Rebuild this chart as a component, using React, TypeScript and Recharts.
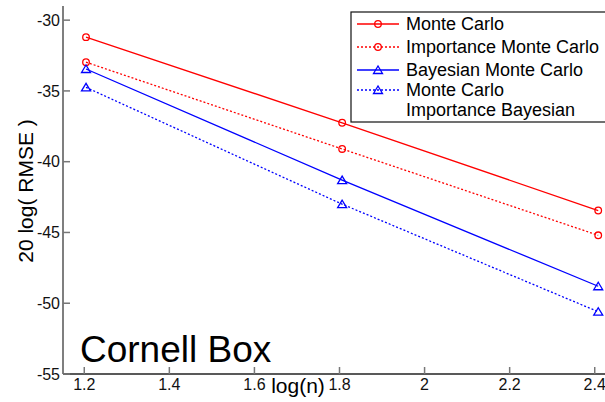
import React from 'react'
import { LineChart, Line, XAxis, YAxis } from 'recharts'

// log10 of sample counts (16, 64, 256)
const logN = [1.2041, 1.8062, 2.4082]

const monteCarlo = [-31.2, -37.25, -43.45]
const importanceMonteCarlo = [-32.97, -39.1, -45.2]
const bayesianMonteCarlo = [-33.45, -41.3, -48.8]
const bayesianImportance = [-34.75, -43.0, -50.6]

const xTicks = [1.2, 1.4, 1.6, 1.8, 2, 2.2, 2.4]
const yTicks = [-55, -50, -45, -40, -35, -30]

const series = [
  { key: 'mc', label: ['Monte Carlo'], color: '#ff0000', dashed: false, marker: 'circle', values: monteCarlo },
  { key: 'imc', label: ['Importance Monte Carlo'], color: '#ff0000', dashed: true, marker: 'circle', values: importanceMonteCarlo },
  { key: 'bmc', label: ['Bayesian Monte Carlo'], color: '#0000ff', dashed: false, marker: 'triangle', values: bayesianMonteCarlo },
  { key: 'bimc', label: ['Monte Carlo', 'Importance Bayesian'], color: '#0000ff', dashed: true, marker: 'triangle', values: bayesianImportance },
]

const data = logN.map((x, i) => {
  const row: { [k: string]: number } = { x }
  series.forEach((s) => {
    row[s.key] = s.values[i]
  })
  return row
})

const FONT = '"Liberation Sans", Arial, sans-serif'
const TICK_COLOR = '#777'
const AXIS_COLOR = '#222'

function Marker({ cx, cy, color, type }: { cx: number; cy: number; color: string; type: string }) {
  if (cx == null || cy == null) return null
  if (type === 'triangle') {
    return (
      <polygon
        points={`${cx},${cy - 4} ${cx - 4.5},${cy + 3.5} ${cx + 4.5},${cy + 3.5}`}
        fill="none"
        stroke={color}
        strokeWidth={1.3}
      />
    )
  }
  return <circle cx={cx} cy={cy} r={3.3} fill="none" stroke={color} strokeWidth={1.3} />
}

function BottomTick(props: any) {
  const { x, y, payload } = props
  return (
    <g>
      <line x1={x} y1={y} x2={x} y2={y - 7} stroke={TICK_COLOR} strokeWidth={1.5} />
      <text x={x} y={y + 16} textAnchor="middle" fontSize={16} fontFamily={FONT} fill="#111">
        {payload.value}
      </text>
    </g>
  )
}

function TopTick(props: any) {
  const { x, y } = props
  return <line x1={x} y1={y} x2={x} y2={y + 7} stroke={TICK_COLOR} strokeWidth={1.5} />
}

function LeftTick(props: any) {
  const { x, y, payload } = props
  return (
    <g>
      <line x1={x} y1={y} x2={x + 7} y2={y} stroke={TICK_COLOR} strokeWidth={1.5} />
      <text x={x - 3} y={y} dy="0.36em" textAnchor="end" fontSize={16} fontFamily={FONT} fill="#111">
        {payload.value}
      </text>
    </g>
  )
}

function LegendBox() {
  const left = 351
  const top = 12
  const rows = [24, 47, 70, 90]
  return (
    <g>
      <rect x={left} y={top} width={270} height={110} fill="#fff" stroke="#111" strokeWidth={1.2} />
      {series.map((s, i) => {
        const y = rows[i]
        return (
          <g key={s.key}>
            <line
              x1={357}
              y1={y}
              x2={399}
              y2={y}
              stroke={s.color}
              strokeWidth={1.3}
              strokeDasharray={s.dashed ? '2 2' : undefined}
            />
            <Marker cx={378} cy={y} color={s.color} type={s.marker} />
            {s.label.map((t, j) => (
              <text key={j} x={406} y={y + j * 20} dy="0.36em" fontSize={18} fontFamily={FONT} fill="#000">
                {t}
              </text>
            ))}
          </g>
        )
      })}
    </g>
  )
}

export default function App() {
  return (
    <div style={{ position: 'absolute', left: 0, top: 0, width: 605, height: 402, overflow: 'hidden', background: '#fff' }}>
      <LineChart width={620} height={402} data={data} margin={{ top: 6, right: 4, left: 0, bottom: 0 }}>
        <XAxis
          dataKey="x"
          type="number"
          domain={[1.15, 2.45]}
          ticks={xTicks}
          interval={0}
          height={28}
          tickSize={0}
          tickMargin={0}
          tickLine={false}
          tick={BottomTick}
          axisLine={{ stroke: AXIS_COLOR, strokeWidth: 1.5 }}
        />
        <XAxis
          xAxisId="top"
          orientation="top"
          dataKey="x"
          type="number"
          domain={[1.15, 2.45]}
          ticks={xTicks}
          interval={0}
          height={0}
          tickSize={0}
          tickMargin={0}
          tickLine={false}
          tick={TopTick}
          axisLine={{ stroke: AXIS_COLOR, strokeWidth: 1.5 }}
        />
        <YAxis
          type="number"
          domain={[-55, -29]}
          ticks={yTicks}
          interval={0}
          width={63}
          tickSize={0}
          tickMargin={0}
          tickLine={false}
          tick={LeftTick}
          axisLine={{ stroke: '#555', strokeWidth: 1.5 }}
        />
        {series.map((s) => (
          <Line
            key={s.key}
            dataKey={s.key}
            type="linear"
            stroke={s.color}
            strokeWidth={1.3}
            strokeDasharray={s.dashed ? '2 2' : undefined}
            dot={(p: any) => <Marker key={`${s.key}-${p.index}`} cx={p.cx} cy={p.cy} color={s.color} type={s.marker} />}
            activeDot={false}
            isAnimationActive={false}
          />
        ))}
      </LineChart>
      <svg width={605} height={402} style={{ position: 'absolute', left: 0, top: 0, pointerEvents: 'none' }}>
        <LegendBox />
        <text x={80} y={362} fontSize={37} fontFamily={FONT} fill="#000">
          Cornell Box
        </text>
        <text x={298} y={393} textAnchor="middle" fontSize={21} fontFamily={FONT} fill="#000">
          log(n)
        </text>
        <text
          x={0}
          y={0}
          transform="translate(33, 191) rotate(-90)"
          textAnchor="middle"
          fontSize={21}
          fontFamily={FONT}
          fill="#000"
        >
          20 log( RMSE )
        </text>
      </svg>
    </div>
  )
}
